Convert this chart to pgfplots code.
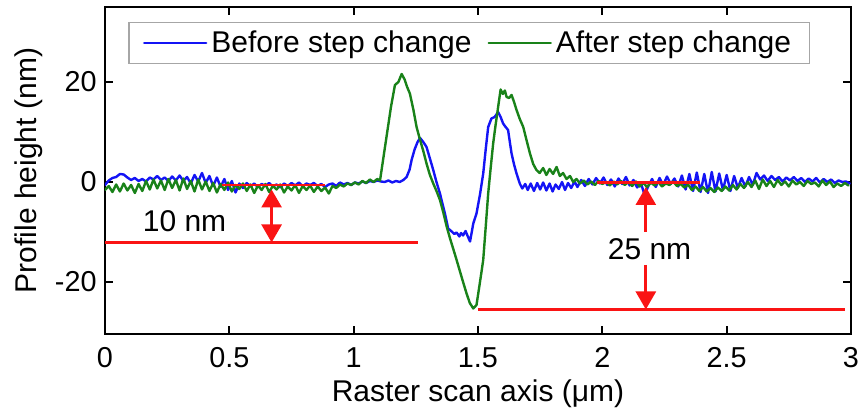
\documentclass[border=0pt]{standalone}
\usepackage{pgfplots}
\pgfplotsset{compat=1.18}
\usepackage{fontspec}
\setmainfont{Liberation Sans}
\usetikzlibrary{arrows.meta}
\definecolor{cblue}{RGB}{20,20,245}
\definecolor{cgreen}{RGB}{25,130,25}
\definecolor{cred}{RGB}{250,20,20}
\begin{document}
\begin{tikzpicture}
\begin{axis}[
  scale only axis, width=373pt, height=163.5pt,
  xmin=0, xmax=3, ymin=-30.4, ymax=35,
  xtick={0,0.5,1,1.5,2,2.5,3}, ytick={-20,0,20},
  xticklabels={0,0.5,1,1.5,2,2.5,3},
  yticklabels={-20,0,20},
  tick align=inside, major tick length=4pt,
  axis line style={line width=1.1pt},
  every tick/.style={black, line width=1pt},
  tick label style={font=\fontsize{14.4}{17}\selectfont},
  xticklabel style={inner sep=0pt, anchor=north, yshift=-6.5pt},
  yticklabel style={inner sep=0pt, anchor=east, xshift=-4pt},
  xlabel={Raster scan axis (μm)},
  ylabel={Profile height (nm)},
  label style={font=\fontsize{15}{18}\selectfont},
  xlabel style={at={(axis description cs:0.5,0)}, anchor=base, inner sep=0pt, yshift=-34pt},
  ylabel style={at={(axis description cs:-0.083,0.5)}, anchor=south, inner sep=0pt},
  legend style={at={(axis description cs:0.488,0.954)}, anchor=north, legend columns=2,
    draw=black!35, line width=0.6pt, font=\fontsize{15}{18}\selectfont, inner ysep=2pt, inner xsep=7pt},
  legend image code/.code={\draw[#1, line width=1.2pt] (0pt,0pt) -- (31pt,0pt);},
  /tikz/every even column/.append style={column sep=6pt},
  every axis plot/.append style={line join=round, line cap=round},
]
\addplot[cblue, line width=1.2pt] coordinates {
(0.000,-0.6) (0.015,0.3) (0.030,0.8) (0.045,1.0) (0.060,1.6) (0.075,1.5) (0.090,0.9) (0.105,0.4) (0.120,0.8) (0.135,0.2)
(0.150,0.6) (0.165,0.1) (0.180,0.9) (0.195,0.5) (0.210,1.2) (0.225,0.4) (0.240,0.9) (0.255,0.2) (0.270,1.1) (0.285,0.3)
(0.300,1.3) (0.315,0.2) (0.330,1.0) (0.345,-0.3) (0.360,1.4) (0.375,0.1) (0.390,1.8) (0.405,-0.2) (0.420,1.2) (0.435,-0.8)
(0.450,0.9) (0.465,-1.0) (0.480,0.6) (0.495,-1.6) (0.510,0.2) (0.525,-2.1) (0.540,-0.3) (0.555,-1.2) (0.570,-0.2) (0.585,-0.9)
(0.600,-0.3) (0.615,-1.0) (0.630,-0.4) (0.645,-0.8) (0.660,-0.2) (0.675,-0.9) (0.690,-0.5) (0.705,-1.1) (0.720,-0.3) (0.735,-0.8)
(0.750,-0.2) (0.765,-0.7) (0.780,-0.1) (0.795,-0.9) (0.810,-0.3) (0.825,-0.6) (0.840,-0.2) (0.855,-0.8) (0.870,-0.4) (0.885,-1.0)
(0.900,-0.5) (0.915,-0.3) (0.930,-0.8) (0.945,-0.1) (0.960,-0.5) (0.975,-0.2) (0.990,-0.6) (1.005,-0.1) (1.020,-0.3) (1.035,0.1)
(1.050,-0.2) (1.065,0.2) (1.080,0.0) (1.095,0.3) (1.110,0.1) (1.125,0.0) (1.140,0.3) (1.155,-0.1) (1.170,0.2) (1.185,0.0)
(1.200,0.4) (1.213,1.0) (1.225,2.5) (1.233,4.4) (1.245,6.5) (1.257,8.0) (1.267,8.8) (1.280,8.0) (1.293,7.0) (1.306,4.8)
(1.320,2.4) (1.333,0.0) (1.347,-2.3) (1.357,-4.3) (1.367,-6.3) (1.380,-9.3) (1.392,-9.8) (1.405,-10.4) (1.414,-10.1) (1.425,-10.9)
(1.432,-10.2) (1.440,-10.7) (1.450,-9.8) (1.460,-11.0) (1.468,-11.9) (1.475,-10.0) (1.481,-8.3) (1.494,-6.3) (1.508,-2.5) (1.521,1.7)
(1.531,6.5) (1.541,11.0) (1.554,12.7) (1.567,13.0) (1.581,14.0) (1.591,13.0) (1.601,11.7) (1.611,11.0) (1.621,10.4) (1.628,8.0)
(1.635,5.7) (1.645,3.5) (1.655,1.7) (1.668,-0.3) (1.678,-1.3) (1.690,-0.4) (1.700,-1.6) (1.712,-0.3) (1.725,-1.8) (1.738,-0.2)
(1.750,-1.5) (1.762,-0.1) (1.775,-1.7) (1.788,-0.3) (1.800,-1.9) (1.812,-0.5) (1.825,-1.4) (1.838,0.0) (1.850,-1.6) (1.862,-0.2)
(1.875,-1.2) (1.888,0.1) (1.900,-1.0) (1.915,0.4) (1.930,-0.8) (1.945,0.6) (1.960,-0.5) (1.975,0.8) (1.990,-0.3) (2.005,0.9)
(2.020,-0.6) (2.035,0.5) (2.050,-0.9) (2.065,0.7) (2.080,-0.4) (2.095,1.0) (2.110,-0.7) (2.125,0.4) (2.140,-1.1) (2.155,-0.2)
(2.170,-2.6) (2.185,-0.8) (2.200,0.6) (2.215,-1.0) (2.230,0.8) (2.245,-0.6) (2.260,1.1) (2.275,-0.4) (2.290,0.7) (2.305,-0.9)
(2.320,1.3) (2.335,-1.5) (2.350,1.6) (2.365,-1.8) (2.380,1.9) (2.395,-2.0) (2.410,1.6) (2.425,-2.2) (2.440,2.0) (2.455,-1.9)
(2.470,1.7) (2.485,-1.6) (2.500,1.4) (2.515,-1.8) (2.530,1.2) (2.545,-1.2) (2.560,0.8) (2.575,-0.9) (2.590,1.0) (2.605,-0.6)
(2.620,1.8) (2.635,0.5) (2.650,1.3) (2.665,0.2) (2.680,1.2) (2.695,0.4) (2.710,1.0) (2.725,0.1) (2.740,0.9) (2.755,0.3)
(2.770,1.0) (2.785,0.2) (2.800,0.8) (2.815,0.0) (2.830,0.7) (2.845,0.1) (2.860,0.8) (2.875,-0.1) (2.890,0.6) (2.905,0.0)
(2.920,0.5) (2.935,-0.2) (2.950,0.3) (2.965,0.0) (2.980,0.1) (2.995,-0.3)
};
\addlegendentry{Before step change}
\addplot[cgreen, line width=1.2pt] coordinates {
(0.000,-1.6) (0.015,-0.8) (0.030,-2.0) (0.045,-0.5) (0.060,-1.9) (0.075,-0.3) (0.090,-1.7) (0.105,-0.6) (0.120,-2.2) (0.135,-0.4)
(0.150,-1.8) (0.165,0.2) (0.180,-1.5) (0.195,0.5) (0.210,-1.3) (0.225,0.3) (0.240,-1.6) (0.255,0.6) (0.270,-1.2) (0.285,0.4)
(0.300,-1.7) (0.315,0.7) (0.330,-1.4) (0.345,0.2) (0.360,-1.9) (0.375,0.5) (0.390,-1.5) (0.405,0.1) (0.420,-1.8) (0.435,-0.2)
(0.450,-2.1) (0.465,-0.4) (0.480,-1.6) (0.495,-0.1) (0.510,-1.9) (0.525,-0.6) (0.540,-1.4) (0.555,-0.3) (0.570,-1.8) (0.585,-0.5)
(0.600,-2.2) (0.615,-0.7) (0.630,-1.6) (0.645,-0.4) (0.660,-2.0) (0.675,-0.8) (0.690,-1.5) (0.705,-0.5) (0.720,-2.1) (0.735,-0.9)
(0.750,-1.7) (0.765,-0.6) (0.780,-2.2) (0.795,-0.8) (0.810,-1.6) (0.825,-0.7) (0.840,-2.0) (0.855,-0.9) (0.870,-1.8) (0.885,-1.1)
(0.900,-2.3) (0.915,-0.8) (0.930,-1.2) (0.945,-0.5) (0.960,-0.9) (0.975,-0.3) (0.990,-0.6) (1.005,-0.1) (1.020,-0.5) (1.035,0.2)
(1.050,-0.2) (1.065,0.5) (1.080,0.0) (1.095,0.6) (1.106,0.3) (1.120,5.0) (1.135,10.0) (1.150,15.0) (1.166,19.4) (1.180,20.0)
(1.193,21.6) (1.205,20.5) (1.215,19.0) (1.226,17.7) (1.240,14.5) (1.253,11.0) (1.266,8.6) (1.280,6.2) (1.293,3.7) (1.306,1.5)
(1.320,-0.3) (1.333,-1.8) (1.347,-3.6) (1.360,-6.0) (1.374,-8.9) (1.387,-11.2) (1.400,-13.3) (1.414,-15.6) (1.427,-17.8) (1.440,-20.0)
(1.454,-22.3) (1.467,-24.2) (1.481,-25.3) (1.494,-24.6) (1.505,-21.0) (1.514,-18.0) (1.521,-15.6) (1.531,-9.0) (1.541,-2.3) (1.551,2.8)
(1.561,7.7) (1.571,11.5) (1.581,15.0) (1.591,18.5) (1.600,17.6) (1.608,18.3) (1.615,17.0) (1.625,16.8) (1.635,17.4) (1.645,16.0)
(1.655,14.4) (1.668,12.6) (1.682,11.0) (1.695,8.4) (1.709,5.7) (1.722,3.6) (1.735,2.4) (1.748,1.8) (1.762,2.8) (1.775,1.4)
(1.788,2.6) (1.802,1.6) (1.816,3.0) (1.829,1.2) (1.842,1.8) (1.856,0.6) (1.870,1.2) (1.883,0.0) (1.896,0.6) (1.910,-0.3)
(1.925,0.3) (1.940,-0.5) (1.955,0.1) (1.970,-0.6) (1.985,0.2) (2.000,-0.4) (2.015,0.0) (2.030,-0.7) (2.045,0.1) (2.060,-0.5)
(2.075,0.2) (2.090,-0.6) (2.105,0.0) (2.120,-0.8) (2.135,0.1) (2.150,-0.9) (2.165,-0.2) (2.180,-1.0) (2.195,-0.1) (2.210,-0.7)
(2.225,0.0) (2.240,-0.9) (2.255,-0.3) (2.270,-0.6) (2.285,0.1) (2.300,-0.8) (2.315,-0.4) (2.330,-1.1) (2.345,-0.5) (2.360,-1.6)
(2.375,-0.9) (2.390,-1.8) (2.405,-1.0) (2.420,-1.9) (2.435,-1.2) (2.450,-2.0) (2.465,-1.1) (2.480,-1.8) (2.495,-0.9) (2.510,-1.7)
(2.525,-0.6) (2.540,-1.5) (2.555,-0.4) (2.570,-1.2) (2.585,0.0) (2.600,-1.0) (2.615,0.3) (2.630,-1.4) (2.645,0.5) (2.660,-0.8)
(2.675,0.2) (2.690,-1.0) (2.705,0.4) (2.720,-0.6) (2.735,0.1) (2.750,-0.9) (2.765,0.3) (2.780,-0.5) (2.795,0.0) (2.810,-0.8)
(2.825,0.2) (2.840,-0.4) (2.855,-0.1) (2.870,-0.9) (2.885,0.3) (2.900,-0.6) (2.915,0.1) (2.930,-1.0) (2.945,-0.3) (2.960,-0.8)
(2.975,-0.2) (2.990,-0.7)
};
\addlegendentry{After step change}
% red annotation lines
\addplot[cred, line width=1.35pt, forget plot, line cap=butt] coordinates {(0.469,-0.6) (0.884,-0.6)};
\addplot[cred, line width=1.35pt, forget plot, line cap=butt] coordinates {(0.0,-12.1) (1.26,-12.1)};
\addplot[cred, line width=1.35pt, forget plot, line cap=butt] coordinates {(1.977,-0.1) (2.392,-0.1)};
\addplot[cred, line width=1.35pt, forget plot, line cap=butt] coordinates {(1.50,-25.5) (2.975,-25.5)};
\draw[cred, line width=1.35pt, {Triangle[length=9pt,width=10pt]}-{Triangle[length=9pt,width=10pt]}] (axis cs:0.67,-1.5) -- (axis cs:0.67,-12.1);
\draw[cred, line width=1.35pt, -{Triangle[length=9pt,width=10pt]}] (axis cs:2.175,-10) -- (axis cs:2.175,-1.0);
\draw[cred, line width=1.35pt, -{Triangle[length=9pt,width=10pt]}] (axis cs:2.175,-16.6) -- (axis cs:2.175,-25.5);
\node[font=\fontsize{15}{18}\selectfont, inner sep=0pt] at (axis cs:0.32,-7.8) {10 nm};
\node[font=\fontsize{15}{18}\selectfont, inner sep=0pt] at (axis cs:2.19,-13.5) {25 nm};
\end{axis}
\pgfresetboundingbox
\path (-52.5pt,-38pt) rectangle (379.5pt,167pt);
\end{tikzpicture}
\end{document}
